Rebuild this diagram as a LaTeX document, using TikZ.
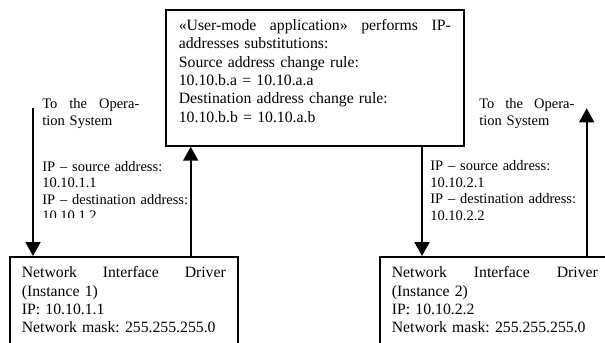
\documentclass[tikz,border=0pt]{standalone}
\usepackage{fontspec}
\setmainfont{Liberation Serif}
\usetikzlibrary{arrows.meta}
\frenchspacing
\begin{document}
\begin{tikzpicture}[x=0.02cm, y=-0.02cm,
    box/.style={draw, line width=1pt, anchor=north west, inner xsep=0.24cm, inner ysep=0pt,
      align=left, font=\fontsize{8.96}{10.49}\selectfont},
    lbl/.style={anchor=base west, inner sep=0pt, align=left},
    flow/.style={line width=1.1pt, -{Triangle[width=0.3cm,length=0.28cm]}}]
  \useasboundingbox (0,0) rectangle (605,342);
  \clip (0,0) rectangle (605,342);

  % Drawing box of the user-mode application
  \node [box, inner xsep=0.26cm, text width=5.44cm, text height=0.406cm, text depth=2.314cm] (app) at (165,9)
    {«User-mode\hfill application»\hfill performs\hfill IP-\\
     addresses substitutions:\\
     Source address change rule:\\
     10.10.b.a = 10.10.a.a\\
     Destination address change rule:\\
     10.10.b.b = 10.10.a.b};

  % Drawing box of driver instance 1
  \node [box, text width=4.08cm, text height=0.414cm, text depth=2cm] (drv1) at (9,256)
    {Network\hfill Interface\hfill Driver\\
     (Instance 1)\\
     IP: 10.10.1.1\\
     Network mask: 255.255.255.0};

  % Drawing box of driver instance 2
  \node [box, text width=4.12cm, text height=0.414cm, text depth=2cm] (drv2) at (379,256)
    {Network\hfill Interface\hfill Driver\\
     (Instance 2)\\
     IP: 10.10.2.2\\
     Network mask: 255.255.255.0};

  % Marking the free ends of the arrows
  \coordinate (os1) at (33,108.3);
  \coordinate (up1) at (190.7,0);
  \coordinate (dn2) at (422,0);
  \coordinate (os2) at (586.7,108.3);

  % Drawing arrows
  \draw [flow] (os1) -- (os1 |- drv1.north);
  \draw [flow] (up1 |- drv1.north) -- (up1 |- app.south);
  \draw [flow] (dn2 |- app.south) -- (dn2 |- drv2.north);
  \draw [flow] (os2 |- drv2.north) -- (os2);

  % Labels towards the operation system
  \node [lbl, text width=1.94cm, font=\fontsize{8.25}{10}\selectfont] (os1txt) at (42,108.3)
    {To\hfill the\hfill Opera-\\ tion System};
  \node [lbl, text width=1.9cm, font=\fontsize{8.25}{10}\selectfont] (os2txt) at (479,108.3)
    {To\hfill the\hfill Opera-\\ tion System};

  % Labels of the addresses
  \begin{scope}
    \clip (40,150) rectangle (189,217.5);
    \node [lbl, text width=3.2cm, font=\fontsize{8.25}{9.4}\selectfont] (ip1txt) at (42,171)
      {IP – source address:\\ 10.10.1.1\\ IP – destination address:\\ 10.10.1.2};
  \end{scope}
  \node [lbl, text width=3.2cm, font=\fontsize{8.25}{9.4}\selectfont] (ip2txt) at (430,170.7)
    {IP – source address:\\ 10.10.2.1\\ IP – destination address:\\ 10.10.2.2};
\end{tikzpicture}
\end{document}
